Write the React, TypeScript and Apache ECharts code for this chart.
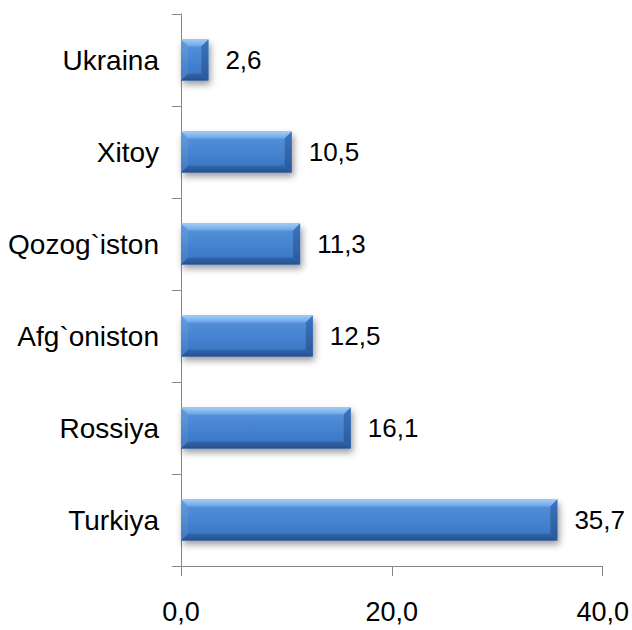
import React, { useEffect, useRef } from "react";
import * as echarts from "echarts";

const categories = ["Turkiya", "Rossiya", "Afg`oniston", "Qozog`iston", "Xitoy", "Ukraina"];
const values = [35.7, 16.1, 12.5, 11.3, 10.5, 2.6];
const xMin = 0;
const xMax = 40;
const xInterval = 20;

const fmt = (v: number) => v.toFixed(1).replace(".", ",");
const BAR_H = 41;
const BEVEL = 7;

export default function App() {
  const ref = useRef<HTMLDivElement>(null);
  useEffect(() => {
    if (!ref.current) return;
    const chart = echarts.init(ref.current, undefined, { renderer: "svg" });
    const font = "'Liberation Sans', Arial, sans-serif";
    const grad = (c: [number, string][]) =>
      new echarts.graphic.LinearGradient(0, 0, 0, 1, c.map(([offset, color]) => ({ offset, color })));
    chart.setOption({
      animation: false,
      backgroundColor: "#ffffff",
      grid: { left: 181, right: 29, top: 14, bottom: 64, containLabel: false },
      xAxis: {
        type: "value",
        min: xMin,
        max: xMax,
        interval: xInterval,
        splitLine: { show: false },
        axisLine: { show: true, lineStyle: { color: "#868686", width: 1 } },
        axisTick: { show: true, length: 10, lineStyle: { color: "#868686" } },
        axisLabel: {
          color: "#000",
          fontSize: 27,
          fontFamily: font,
          margin: 32,
          formatter: (v: number) => fmt(v),
        },
      },
      yAxis: {
        type: "category",
        data: categories,
        axisLine: { show: true, lineStyle: { color: "#868686", width: 1 } },
        axisTick: { show: true, length: 9, lineStyle: { color: "#868686" } },
        axisLabel: { color: "#000", fontSize: 28, fontFamily: font, margin: 22 },
      },
      series: [
        {
          type: "bar",
          data: values,
          barWidth: BAR_H,
          z: 2,
          itemStyle: {
            color: grad([
              [0, "#5a96dc"],
              [0.5, "#4683d0"],
              [1, "#3773c0"],
            ]),
            shadowColor: "rgba(0,0,0,0.4)",
            shadowBlur: 7,
            shadowOffsetX: 2,
            shadowOffsetY: 4,
          },
          label: {
            show: true,
            position: "right",
            distance: 17,
            color: "#000",
            fontSize: 26,
            fontFamily: font,
            formatter: (p: any) => fmt(p.value),
          },
        },
        {
          type: "custom",
          z: 3,
          silent: true,
          encode: { x: 0, y: 1 },
          data: values.map((v, i) => [v, i]),
          renderItem: (params: any, api: any) => {
            const v = api.value(0);
            const idx = api.value(1);
            const s = api.coord([0, idx]);
            const e = api.coord([v, idx]);
            const x0 = s[0];
            const x1 = e[0];
            const y0 = s[1] - BAR_H / 2;
            const y1 = s[1] + BAR_H / 2;
            const b = Math.min(BEVEL, (x1 - x0) / 2);
            return {
              type: "group",
              children: [
                {
                  type: "polygon",
                  shape: { points: [[x0, y0], [x1, y0], [x1 - b, y0 + b], [x0 + b, y0 + b]] },
                  style: { fill: grad([[0, "#9fcbf5"], [1, "#6aa6e6"]]) },
                },
                {
                  type: "polygon",
                  shape: { points: [[x0, y1], [x1, y1], [x1 - b, y1 - b], [x0 + b, y1 - b]] },
                  style: { fill: grad([[0, "#3166ad"], [1, "#26508a"]]) },
                },
                {
                  type: "polygon",
                  shape: { points: [[x0, y0], [x0, y1], [x0 + b, y1 - b], [x0 + b, y0 + b]] },
                  style: { fill: grad([[0, "#639ddf"], [1, "#3f7ac4"]]) },
                },
                {
                  type: "polygon",
                  shape: { points: [[x1, y0], [x1, y1], [x1 - b, y1 - b], [x1 - b, y0 + b]] },
                  style: { fill: grad([[0, "#3b74bf"], [1, "#2b5998"]]) },
                },
              ],
            };
          },
        },
      ],
    });
    return () => chart.dispose();
  }, []);
  return <div ref={ref} style={{ width: 632, height: 630, position: "absolute", left: 0, top: 0 }} />;
}
